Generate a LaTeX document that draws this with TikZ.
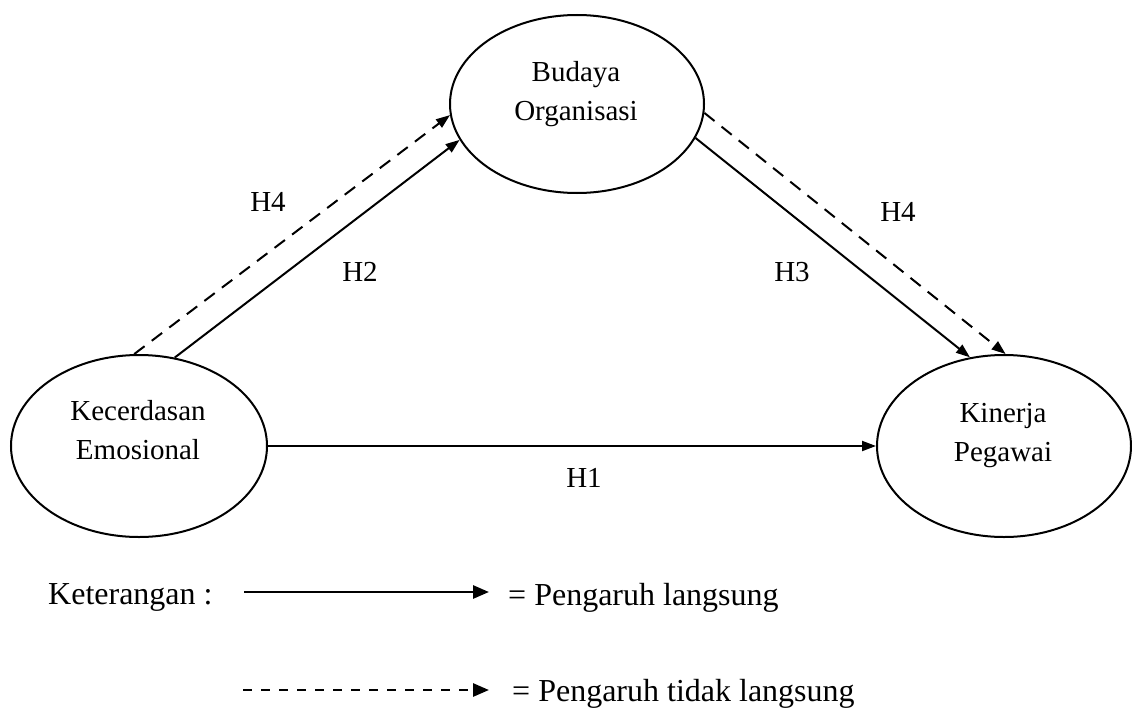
\documentclass[tikz,border=0pt]{standalone}
\usepackage{fontspec}
\setmainfont{Liberation Serif}
\usetikzlibrary{shapes.geometric,arrows.meta}
\begin{document}
\begin{tikzpicture}[x=1pt,y=-1pt,
  ell/.style={ellipse,draw,line width=2pt,inner sep=0pt},
  lbl/.style={font=\fontsize{29}{39}\selectfont,align=center,inner sep=0pt},
  hyp/.style={font=\fontsize{29}{35}\selectfont,inner sep=0pt},
  leg/.style={font=\fontsize{32}{38}\selectfont,inner sep=0pt,anchor=base west},
  direct/.style={line width=2pt,-{Triangle[length=14pt,width=10pt]}},
  indirect/.style={direct,dash pattern=on 13pt off 9pt},
  legdirect/.style={line width=2.8pt,-{Triangle[length=16pt,width=13pt]}},
  legindirect/.style={legdirect,dash pattern=on 9pt off 9pt}]
\useasboundingbox (0,0) rectangle (1132,709);

% ellipses
\node[ell,minimum width=254pt,minimum height=178pt] (bo) at (577,104) {};
\node[ell,minimum width=256pt,minimum height=182pt] (ke) at (139,446) {};
\node[ell,minimum width=254pt,minimum height=182pt] (ki) at (1004,446) {};

% ellipse texts
\node[lbl] (bo-t) at (576,94) {Budaya\\Organisasi};
\node[lbl] (ke-t) at (138,430) {Kecerdasan\\Emosional};
\node[lbl] (ki-t) at (1003,436) {Kinerja\\Pegawai};

% connectors
\draw[indirect] (ke.93.7) -- (bo.185);
\draw[direct] (ke.68) -- (bo.197);
\draw[direct] (bo.344) -- (ki.111);
\draw[indirect] (bo.356) -- (ki.89);
\draw[direct] (ke.east) -- (ki.west);

% hypothesis labels
\node[hyp] (h4a) at (268,202) {H4};
\node[hyp] (h2) at (360,272) {H2};
\node[hyp] (h4b) at (898,212) {H4};
\node[hyp] (h3) at (792,272) {H3};
\node[hyp] (h1) at (584,478) {H1};

% legend
\node[leg] (ket) at (48,604) {Keterangan :};
\coordinate (l1a) at (244,592);
\coordinate (l1b) at (489,592);
\node[leg] (t1) at (508,605) {= Pengaruh langsung};
\draw[legdirect] (l1a) -- (l1b);
\coordinate (l2a) at (243,690);
\coordinate (l2b) at (489,690);
\node[leg] (t2) at (512,701) {= Pengaruh tidak langsung};
\draw[legindirect] (l2a) -- (l2b);
\end{tikzpicture}
\end{document}
